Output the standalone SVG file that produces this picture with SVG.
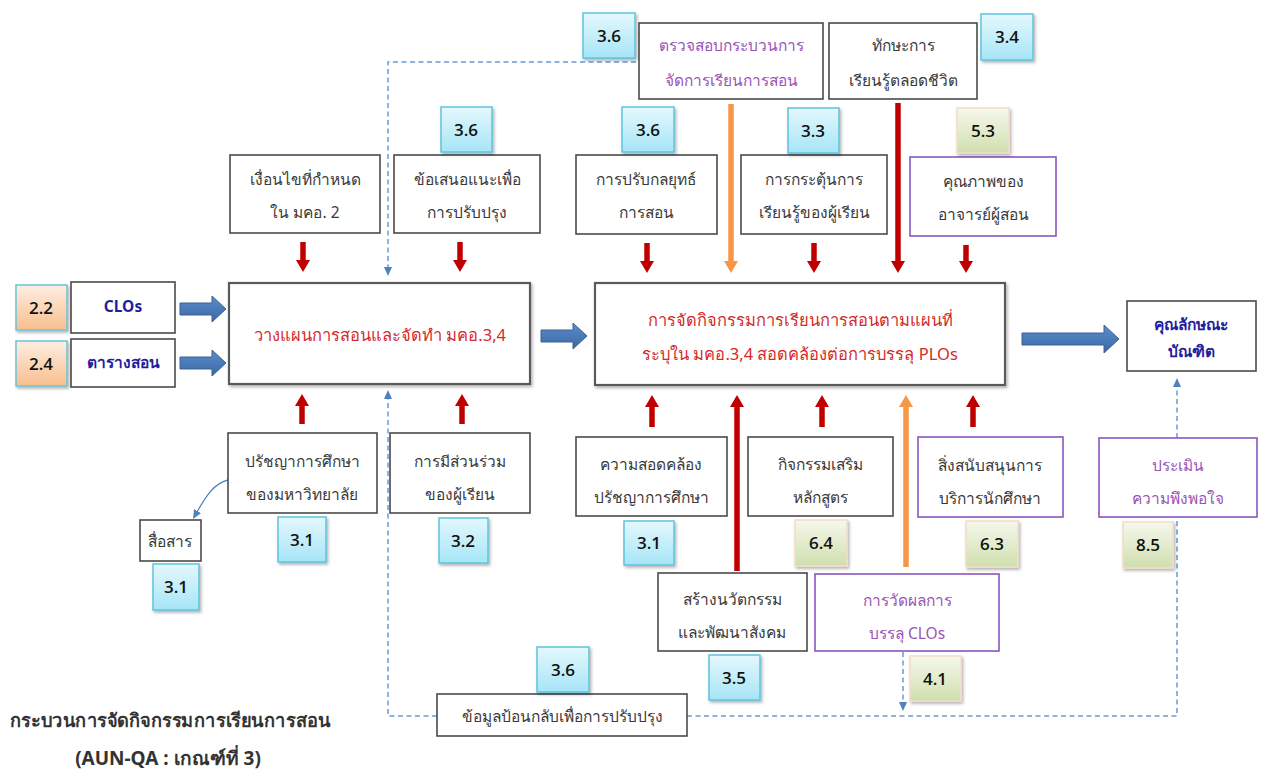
<svg xmlns="http://www.w3.org/2000/svg" width="1277" height="772" viewBox="0 0 1277 772">
  <style>
    .bx { fill: #ffffff; stroke: #4a4a4a; stroke-width: 1.6; }
    .bxp { fill: #ffffff; stroke: #8a55bf; stroke-width: 1.6; }
    .main { fill: #ffffff; stroke: #5a5a5a; stroke-width: 2.2; filter: url(#sh); }
    .t { font-family: "Noto Sans", "DejaVu Sans", sans-serif; font-size: 15.5px; fill: #3a3a3a; text-anchor: middle; }
    .tp { fill: #9a55b5; }
    .tr { fill: #d42a2a; font-size: 16.5px; }
    .tn { fill: #1f1f9c; font-weight: bold; }
    .num { font-family: "Open Sans", "Liberation Sans", sans-serif; font-size: 17px; font-weight: 600; fill: #111111; text-anchor: middle; }
    .bdg-b { fill: url(#gb); stroke: #5ec3dc; stroke-width: 1.5; filter: url(#sh); }
    .bdg-g { fill: url(#gg); stroke: #f3dcc8; stroke-width: 1.5; filter: url(#sh); }
    .bdg-o { fill: url(#go); stroke: #6ec4d6; stroke-width: 1.5; filter: url(#sh); }
    .red { stroke: #c00000; stroke-width: 5.5; fill: none; marker-end: url(#ar); }
    .org { stroke: #f79646; stroke-width: 5.5; fill: none; marker-end: url(#ao); }
    .dash { stroke: #6a9bd6; stroke-width: 1.5; stroke-dasharray: 5 3.5; fill: none; }
    .dasha { marker-end: url(#ab); }
    .blk { fill: url(#gblk); stroke: #3b6390; stroke-width: 1; }
    .title { font-family: "Noto Sans", "DejaVu Sans", sans-serif; font-size: 19px; font-weight: bold; fill: #333333; }
  </style>
  <defs>
    <linearGradient id="gb" x1="0" y1="0" x2="0" y2="1">
      <stop offset="0" stop-color="#e4f8fd"/>
      <stop offset="1" stop-color="#a6e5f7"/>
    </linearGradient>
    <linearGradient id="gg" x1="0" y1="0" x2="0" y2="1">
      <stop offset="0" stop-color="#f6f8ec"/>
      <stop offset="1" stop-color="#cfdfae"/>
    </linearGradient>
    <linearGradient id="go" x1="0" y1="0" x2="0" y2="1">
      <stop offset="0" stop-color="#fdeee2"/>
      <stop offset="1" stop-color="#f8bf8e"/>
    </linearGradient>
    <linearGradient id="gblk" x1="0" y1="0" x2="0" y2="1">
      <stop offset="0" stop-color="#5c8ccb"/>
      <stop offset="0.5" stop-color="#4a7ab8"/>
      <stop offset="1" stop-color="#3d68a3"/>
    </linearGradient>
    <filter id="sh" x="-10%" y="-10%" width="130%" height="140%">
      <feDropShadow dx="1.5" dy="2" stdDeviation="1.5" flood-color="#000" flood-opacity="0.3"/>
    </filter>
    <marker id="ar" markerUnits="userSpaceOnUse" markerWidth="12" markerHeight="14" refX="2" refY="7" orient="auto">
      <path d="M0,0 L12,7 L0,14 z" fill="#c00000"/>
    </marker>
    <marker id="ao" markerUnits="userSpaceOnUse" markerWidth="12" markerHeight="14" refX="2" refY="7" orient="auto">
      <path d="M0,0 L12,7 L0,14 z" fill="#f79646"/>
    </marker>
    <marker id="ab" markerUnits="userSpaceOnUse" markerWidth="9" markerHeight="8" refX="1" refY="4" orient="auto">
      <path d="M0,0 L9,4 L0,8 z" fill="#4f81bd"/>
    </marker>
  </defs>

  <!-- connectors -->
  <g id="connectors">
    <!-- block arrows -->
    <polygon class="blk" points="180,303 212,303 212,296 226,309 212,322 212,315 180,315"/>
    <polygon class="blk" points="180,357 212,357 212,350 226,363 212,376 212,369 180,369"/>
    <polygon class="blk" points="541,330 573,330 573,323 587,336 573,349 573,342 541,342"/>
    <polygon class="blk" points="1022,333 1104,333 1104,325 1119,339 1104,353 1104,345 1022,345"/>

    <!-- red inputs above -->
    <line class="red" x1="303" y1="242" x2="303" y2="262"/>
    <line class="red" x1="460" y1="242" x2="460" y2="262"/>
    <line class="red" x1="647" y1="243" x2="647" y2="263"/>
    <line class="red" x1="814" y1="243" x2="814" y2="263"/>
    <line class="red" x1="966" y1="245" x2="966" y2="263"/>
    <line class="red" x1="898" y1="103" x2="898" y2="263"/>
    <line class="org" x1="731" y1="104" x2="731" y2="263"/>

    <!-- red inputs below -->
    <line class="red" x1="302" y1="424" x2="302" y2="404"/>
    <line class="red" x1="462" y1="424" x2="462" y2="404"/>
    <line class="red" x1="652" y1="427" x2="652" y2="405"/>
    <line class="red" x1="822" y1="427" x2="822" y2="405"/>
    <line class="red" x1="973" y1="427" x2="973" y2="405"/>
    <line class="red" x1="737" y1="571" x2="737" y2="405"/>
    <line class="org" x1="906" y1="567" x2="906" y2="405"/>

    <!-- dashed feedback loops -->
    <path class="dash dasha" d="M636,62 H388 V268"/>
    <path class="dash dasha" d="M437,716 H388 V398"/>
    <path class="dash" d="M687,716 H1177 V517"/>
    <path class="dash dasha" d="M1177,438 V386"/>
    <path class="dash dasha" d="M903,652 V703"/>

    <!-- philosophy to communication -->
    <path d="M228,480 C212,484 204,500 197,512" fill="none" stroke="#4f81bd" stroke-width="1.3" marker-end="url(#ab)"/>
  </g>

  <!-- nodes: top row -->
  <g id="n-audit">
    <rect class="bx" x="639" y="23" width="184" height="76"/>
    <text class="t tp" x="731" y="51">ตรวจสอบกระบวนการ</text>
    <text class="t tp" x="731" y="86">จัดการเรียนการสอน</text>
  </g>
  <g id="n-lifelong">
    <rect class="bx" x="829" y="23" width="148" height="76"/>
    <text class="t" x="903" y="51">ทักษะการ</text>
    <text class="t" x="903" y="86">เรียนรู้ตลอดชีวิต</text>
  </g>
  <g id="n-cond">
    <rect class="bx" x="230" y="155" width="150" height="78"/>
    <text class="t" x="305" y="185">เงื่อนไขที่กำหนด</text>
    <text class="t" x="305" y="218">ใน มคอ. 2</text>
  </g>
  <g id="n-suggest">
    <rect class="bx" x="394" y="155" width="146" height="78"/>
    <text class="t" x="467" y="185">ข้อเสนอแนะเพื่อ</text>
    <text class="t" x="467" y="218">การปรับปรุง</text>
  </g>
  <g id="n-strategy">
    <rect class="bx" x="576" y="155" width="141" height="79"/>
    <text class="t" x="646" y="185">การปรับกลยุทธ์</text>
    <text class="t" x="646" y="218">การสอน</text>
  </g>
  <g id="n-motivate">
    <rect class="bx" x="741" y="155" width="146" height="79"/>
    <text class="t" x="814" y="185">การกระตุ้นการ</text>
    <text class="t" x="814" y="218">เรียนรู้ของผู้เรียน</text>
  </g>
  <g id="n-teacher">
    <rect class="bxp" x="910" y="157" width="146" height="79"/>
    <text class="t" x="983" y="187">คุณภาพของ</text>
    <text class="t" x="983" y="220">อาจารย์ผู้สอน</text>
  </g>

  <!-- nodes: middle row -->
  <g id="n-clos">
    <rect class="bx" x="71" y="282" width="104" height="51"/>
    <text class="t tn" x="123" y="312" font-size="17">CLOs</text>
  </g>
  <g id="n-schedule">
    <rect class="bx" x="71" y="339" width="104" height="48"/>
    <text class="t tn" x="123" y="368">ตารางสอน</text>
  </g>
  <g id="n-plan">
    <rect class="main" x="229" y="283" width="301" height="101"/>
    <text class="t tr" x="380" y="341">วางแผนการสอนและจัดทำ มคอ.3,4</text>
  </g>
  <g id="n-activity">
    <rect class="main" x="595" y="283" width="410" height="102"/>
    <text class="t tr" x="800" y="326">การจัดกิจกรรมการเรียนการสอนตามแผนที่</text>
    <text class="t tr" x="800" y="360">ระบุใน มคอ.3,4 สอดคล้องต่อการบรรลุ PLOs</text>
  </g>
  <g id="n-graduate">
    <rect class="bx" x="1127" y="301" width="129" height="70"/>
    <text class="t tn" x="1191" y="330" font-size="14">คุณลักษณะ</text>
    <text class="t tn" x="1191" y="357" font-size="14">บัณฑิต</text>
  </g>

  <!-- nodes: bottom rows -->
  <g id="n-philosophy">
    <rect class="bx" x="228" y="433" width="149" height="80"/>
    <text class="t" x="302" y="467">ปรัชญาการศึกษา</text>
    <text class="t" x="302" y="500">ของมหาวิทยาลัย</text>
  </g>
  <g id="n-participation">
    <rect class="bx" x="390" y="433" width="140" height="80"/>
    <text class="t" x="460" y="467">การมีส่วนร่วม</text>
    <text class="t" x="460" y="500">ของผู้เรียน</text>
  </g>
  <g id="n-communicate">
    <rect class="bx" x="140" y="520" width="61" height="41"/>
    <text class="t" x="170" y="547">สื่อสาร</text>
  </g>
  <g id="n-alignment">
    <rect class="bx" x="576" y="437" width="151" height="79"/>
    <text class="t" x="651" y="470">ความสอดคล้อง</text>
    <text class="t" x="651" y="503">ปรัชญาการศึกษา</text>
  </g>
  <g id="n-extracurricular">
    <rect class="bx" x="748" y="437" width="145" height="79"/>
    <text class="t" x="820" y="470">กิจกรรมเสริม</text>
    <text class="t" x="820" y="503">หลักสูตร</text>
  </g>
  <g id="n-support">
    <rect class="bxp" x="918" y="437" width="145" height="80"/>
    <text class="t" x="990" y="471">สิ่งสนับสนุนการ</text>
    <text class="t" x="990" y="504">บริการนักศึกษา</text>
  </g>
  <g id="n-satisfaction">
    <rect class="bxp" x="1099" y="438" width="158" height="79" stroke-width="2.6"/>
    <text class="t tp" x="1178" y="471">ประเมิน</text>
    <text class="t tp" x="1178" y="504">ความพึงพอใจ</text>
  </g>
  <g id="n-innovation">
    <rect class="bx" x="658" y="573" width="149" height="78"/>
    <text class="t" x="732" y="605">สร้างนวัตกรรม</text>
    <text class="t" x="732" y="638">และพัฒนาสังคม</text>
  </g>
  <g id="n-measure">
    <rect class="bxp" x="815" y="574" width="184" height="77"/>
    <text class="t tp" x="907" y="606">การวัดผลการ</text>
    <text class="t tp" x="907" y="639">บรรลุ CLOs</text>
  </g>
  <g id="n-feedback">
    <rect class="bx" x="437" y="694" width="250" height="42"/>
    <text class="t" x="562" y="722">ข้อมูลป้อนกลับเพื่อการปรับปรุง</text>
  </g>

  <!-- criterion badges -->
  <g id="badges">
    <rect class="bdg-b" x="583" y="13" width="52" height="45"/><text class="num" x="609" y="42">3.6</text>
    <rect class="bdg-b" x="981" y="14" width="52" height="46"/><text class="num" x="1007" y="43">3.4</text>
    <rect class="bdg-b" x="441" y="107" width="51" height="45"/><text class="num" x="466" y="136">3.6</text>
    <rect class="bdg-b" x="622" y="107" width="52" height="45"/><text class="num" x="648" y="136">3.6</text>
    <rect class="bdg-b" x="788" y="108" width="51" height="45"/><text class="num" x="813" y="137">3.3</text>
    <rect class="bdg-g" x="957" y="108" width="52" height="45"/><text class="num" x="983" y="137">5.3</text>
    <rect class="bdg-o" x="16" y="285" width="51" height="45"/><text class="num" x="41" y="314">2.2</text>
    <rect class="bdg-o" x="16" y="341" width="51" height="45"/><text class="num" x="41" y="370">2.4</text>
    <rect class="bdg-b" x="278" y="517" width="48" height="45"/><text class="num" x="302" y="546">3.1</text>
    <rect class="bdg-b" x="439" y="518" width="49" height="45"/><text class="num" x="463" y="547">3.2</text>
    <rect class="bdg-b" x="153" y="564" width="46" height="46"/><text class="num" x="176" y="593">3.1</text>
    <rect class="bdg-b" x="624" y="521" width="50" height="44"/><text class="num" x="649" y="549">3.1</text>
    <rect class="bdg-g" x="795" y="520" width="52" height="46"/><text class="num" x="821" y="549">6.4</text>
    <rect class="bdg-g" x="966" y="521" width="52" height="46"/><text class="num" x="992" y="550">6.3</text>
    <rect class="bdg-g" x="1123" y="522" width="50" height="46"/><text class="num" x="1148" y="551">8.5</text>
    <rect class="bdg-b" x="709" y="655" width="51" height="45"/><text class="num" x="734" y="684">3.5</text>
    <rect class="bdg-g" x="910" y="656" width="51" height="45"/><text class="num" x="935" y="685">4.1</text>
    <rect class="bdg-b" x="537" y="647" width="52" height="45"/><text class="num" x="563" y="676">3.6</text>
  </g>

  <!-- caption -->
  <g id="caption">
    <text class="title" x="10" y="727" textLength="320" lengthAdjust="spacingAndGlyphs">กระบวนการจัดกิจกรรมการเรียนการสอน</text>
    <text class="title" x="168" y="765" text-anchor="middle">(AUN-QA : เกณฑ์ที่ 3)</text>
  </g>
</svg>
